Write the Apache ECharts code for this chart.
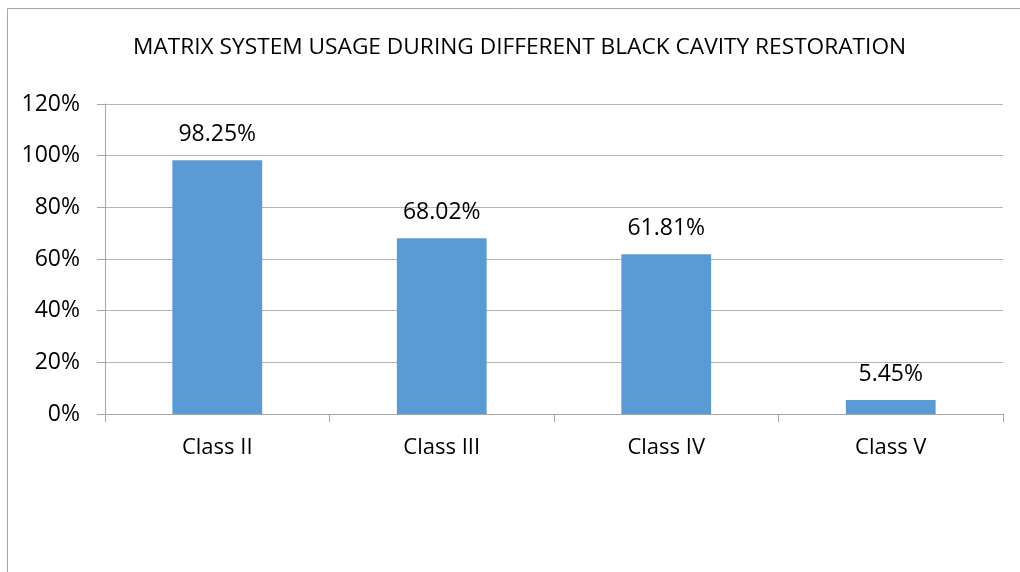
<!DOCTYPE html>
<html>
<head>
<meta charset="utf-8">
<script src="https://cdn.jsdelivr.net/npm/echarts@6/dist/echarts.min.js"></script>
<style>
  html, body { margin: 0; padding: 0; background: #ffffff; }
  #chart { width: 1020px; height: 572px; }
</style>
</head>
<body>
<div id="chart"></div>
<script>
// Cavity classes and share of restorations using a matrix system (%)
const categories = ['Class II', 'Class III', 'Class IV', 'Class V'];
const usage = [98.25, 68.02, 61.81, 5.45];
const valueLabels = ['98.25%', '68.02%', '61.81%', '5.45%'];
const titleText = 'MATRIX SYSTEM USAGE DURING DIFFERENT BLACK CAVITY RESTORATION';

const FONT = '"Open Sans", "Liberation Sans", sans-serif';
const chart = echarts.init(document.getElementById('chart'), null, { renderer: 'canvas' });

chart.setOption({
  backgroundColor: '#ffffff',
  animation: false,
  title: {
    text: titleText,
    left: 128,
    top: 31,
    textStyle: { fontFamily: FONT, fontSize: 22.7, fontWeight: 'normal', color: '#000000' }
  },
  graphic: [{
    type: 'rect',
    shape: { x: 7.5, y: 8.5, width: 1200, height: 800 },
    style: { fill: 'none', stroke: '#a6a6a6', lineWidth: 1 },
    silent: true
  }],
  grid: { left: 105, right: 17, top: 104, bottom: 158, containLabel: false },
  xAxis: {
    type: 'category',
    data: categories,
    axisLine: { show: true, lineStyle: { color: '#a6a6a6', width: 1 } },
    axisTick: { show: true, length: 8, lineStyle: { color: '#a6a6a6' } },
    axisLabel: { margin: 23, fontFamily: FONT, fontSize: 22, color: '#000000' }
  },
  yAxis: {
    type: 'value',
    min: 0,
    max: 120,
    interval: 20,
    axisLine: { show: true, lineStyle: { color: '#a6a6a6', width: 1 } },
    axisTick: { show: true, length: 8, lineStyle: { color: '#a6a6a6' } },
    axisLabel: { margin: 25, formatter: '{value}%', fontFamily: FONT, fontSize: 23, color: '#000000' },
    splitLine: { show: true, lineStyle: { color: '#b4b4b4', width: 1 } }
  },
  series: [{
    type: 'bar',
    data: usage,
    barWidth: '40%',
    itemStyle: { color: '#5b9bd5' },
    label: {
      show: true,
      position: 'top',
      distance: 14,
      formatter: (p) => valueLabels[p.dataIndex],
      fontFamily: FONT,
      fontSize: 23,
      color: '#000000'
    }
  }]
});
</script>
</body>
</html>
